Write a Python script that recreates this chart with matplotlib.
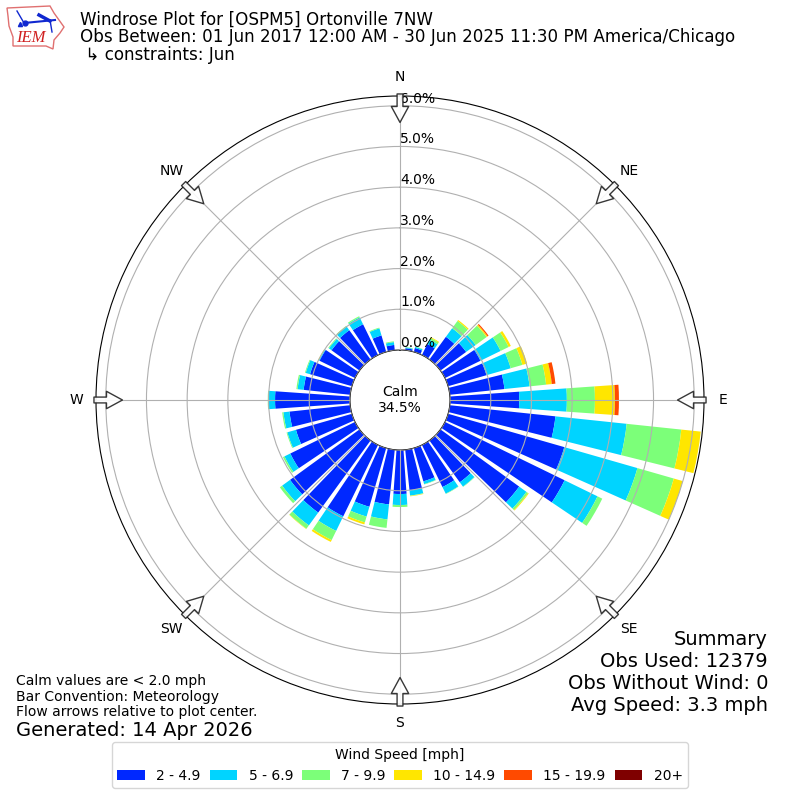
import numpy as np
import matplotlib
matplotlib.use("Agg")
import matplotlib.pyplot as plt
from matplotlib.patches import Polygon

directions = list(range(0, 360, 10))
bin_labels = ["2 - 4.9", "5 - 6.9", "7 - 9.9", "10 - 14.9", "15 - 19.9", "20+"]
bin_colors = ["#0028ff", "#00d4ff", "#7cff79", "#ffe600", "#ff4a00", "#7f0000"]
speed_2_5 = [0, .05, .1, .3, .69, .78, .97, .98, 1.35, 1.70, 2.61, 2.97, 3.27, 2.39, 1.27, 1.15, .85, 1.0,
             1.08, 1.35, 1.5, 1.95, 2.19, 2.11, 1.77, 1.43, 1.5, 1.84, 1.15, 1.07, .97, .85, .89, .84, .42, .13]
speed_5_7 = [0, .02, .03, .12, .26, .29, .55, .62, .62, 1.17, 1.76, 1.87, .9, .22, .13, .18, .07, .13,
             .27, .37, .25, .4, .39, .24, .16, .22, .15, .16, .15, .11, .02, .08, .11, .19, .18, .07]
speed_7_10 = [0, .01, .01, .05, .22, .33, .22, .3, .41, .69, 1.35, .93, .13, .05, .01, .01, .01, .01,
              .05, .21, .15, .25, .1, .07, .04, .02, .03, .02, .03, .02, .01, .02, .02, .03, .02, .02]
speed_10_15 = [0, 0, 0, .02, .03, .03, .06, .12, .14, .49, .48, .23, 0, .02, 0, 0, 0, .01,
               0, 0, .05, .05, .01, 0, 0, 0, 0, 0, 0, 0, .01, 0, 0, 0, 0, 0]
speed_15_20 = [0, 0, 0, 0, 0, .03, 0, 0, .09, .1, 0, 0, 0, 0, 0, 0, 0, 0,
               0, 0, 0, 0, 0, 0, 0, 0, 0, 0, 0, 0, 0, 0, 0, 0, 0, 0]
speed_20 = [0] * 36
series = [speed_2_5, speed_5_7, speed_7_10, speed_10_15, speed_15_20, speed_20]
r_ticks = [0, 1, 2, 3, 4, 5, 6]
compass = ["N", "NE", "E", "SE", "S", "SW", "W", "NW"]
compass_deg = [0, 45, 90, 135, 180, 225, 270, 315]

fig = plt.figure(figsize=(8, 8), dpi=100)
ax = fig.add_axes([96 / 800, 96 / 800, 608 / 800, 608 / 800], projection="polar")
ax.set_theta_zero_location("N")
ax.set_theta_direction(-1)
theta = np.deg2rad(directions)
bottom = np.zeros(36)
for vals, lab, col in zip(series, bin_labels, bin_colors):
    ax.bar(theta, vals, width=np.deg2rad(8), bottom=bottom, color=col, label=lab, zorder=2)
    bottom += np.array(vals)
ax.set_rlim(0, 6.24)
ax.set_rorigin(-1.23)
ax.set_rgrids(r_ticks, [f"{v:.1f}%" for v in r_ticks], angle=0, ha="left", va="bottom", fontsize=10)
ax.set_thetagrids(compass_deg, compass, fontsize=10)
ax.tick_params(axis="x", pad=3.5)
ax.grid(True, zorder=3)
ax.set_axisbelow(False)

for d in compass_deg:
    ax.annotate("", xy=(np.deg2rad(d), 5.59), xytext=(np.deg2rad(d), 6.29),
                annotation_clip=False,
                arrowprops=dict(facecolor="white", edgecolor="#222222", width=4.2, headwidth=12.5,
                                headlength=11.5, shrink=0, linewidth=1, alpha=.9), zorder=6)

fig.text(0.5, 0.5, "Calm\n34.5%", ha="center", va="center", fontsize=10)
for txt, ypx in zip(["Windrose Plot for [OSPM5] Ortonville 7NW",
                     "Obs Between: 01 Jun 2017 12:00 AM - 30 Jun 2025 11:30 PM America/Chicago",
                     " ↳ constraints: Jun"], [20, 37, 55]):
    fig.text(80 / 800, 1 - ypx / 800, txt, ha="left", va="center", fontsize=12.05)
fig.text(768 / 800, 1 - 672.5 / 800,
         "Summary\nObs Used: 12379\nObs Without Wind: 0\nAvg Speed: 3.3 mph",
         ha="right", va="center", fontsize=14, linespacing=1.18)
fig.text(16 / 800, 1 - 696.5 / 800,
         "Calm values are < 2.0 mph\nBar Convention: Meteorology\nFlow arrows relative to plot center.",
         ha="left", va="center", fontsize=10, linespacing=1.17)
fig.text(16 / 800, 1 - 730 / 800, "Generated: 14 Apr 2026", ha="left", va="center", fontsize=14)

handles, labels = ax.get_legend_handles_labels()
fig.legend(handles, labels, ncol=6, loc="lower center", bbox_to_anchor=(0.5, 0.00625),
           title="Wind Speed [mph]", fontsize=10, title_fontsize=10, columnspacing=0.65)

# IEM logo
logo = fig.add_axes([0, 1 - 52 / 800, 70 / 800, 52 / 800])
logo.set_xlim(0, 70)
logo.set_ylim(52, 0)
logo.axis("off")
logo.add_patch(Polygon([(7, 8), (50, 6), (54, 13), (64, 27), (60, 33), (54, 40), (53, 49), (46, 46), (13, 46),
                        (13, 37), (9, 26), (8, 16)], closed=True, fc="white", ec="#e07070", lw=1))
logo.plot([24, 55], [23, 20], color="#1028d0", lw=1.5)
logo.plot([25], [23], "o", color="#1028d0", ms=3.5)
logo.plot([20], [24], "^", color="#1028d0", ms=3)
logo.plot([17, 24], [11, 23], color="#1028d0", lw=1)
logo.plot([39, 50], [15, 21], color="#1028d0", lw=2.5)
logo.plot([50, 52], [20, 32], color="#1028d0", lw=1)
logo.text(16, 38.5, "IEM", color="#d02020", fontsize=12, family="Liberation Serif", style="italic",
          ha="left", va="center")

fig.savefig("out.png", dpi=100)
